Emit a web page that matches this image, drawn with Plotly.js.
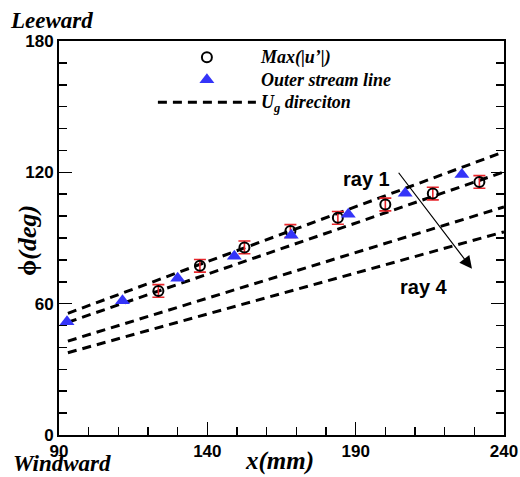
<!DOCTYPE html>
<html>
<head>
<meta charset="utf-8">
<script src="https://cdn.plot.ly/plotly-3.0.1.min.js"></script>
<style>html,body{margin:0;padding:0;background:#fff;}#chart{width:520px;height:477px;}</style>
</head>
<body>
<div id="chart"></div>
<script>
// Max(|u'|) points with error bars
var maxX = [123.5, 137.5, 152.5, 168, 184, 200, 216, 231.7];
var maxY = [65.8, 77.3, 85.7, 93.2, 99.2, 105.3, 110.3, 115.6];
var maxErr = [2.9, 2.9, 2.9, 2.9, 2.9, 2.9, 2.9, 2.9];
// Outer stream line points
var outerX = [92.7, 111.4, 130, 149.1, 168.3, 187.5, 206.7, 225.8];
var outerY = [51.7, 61.3, 71.6, 81.7, 91.3, 100.9, 110.4, 119.0];
// Ug direction rays
var rayX = [93, 240];
var ray1 = [55.6, 129.4];
var ray2 = [51.5, 120.2];
var ray3 = [42.9, 104.2];
var ray4 = [37.6, 92.8];
// axis ticks
var xTicks = [90, 140, 190, 240];
var yTicks = [0, 60, 120, 180];

var serif = 'Liberation Serif, Times New Roman, serif';
var sans = 'Liberation Sans, Arial, Helvetica, sans-serif';
var rayStyle = {color: '#000', width: 3, dash: '9px,6px'};
function big(t) { return '<span style="font-size:18px">' + t + '</span>'; }

var traces = [];
[ray1, ray2, ray3, ray4].forEach(function (r, i) {
  traces.push({
    x: rayX, y: r, type: 'scatter', mode: 'lines',
    line: rayStyle, name: big('U<sub>g</sub> direciton'),
    legendgroup: 'rays', showlegend: i === 0, legendrank: 3,
    hoverinfo: 'skip'
  });
});
traces.push({
  x: maxX, y: maxY, type: 'scatter', mode: 'markers',
  name: big('Max(|u’|)'), legendrank: 1,
  marker: {symbol: 'circle-open', size: 10, color: '#000', line: {width: 2, color: '#000'}},
  error_y: {type: 'data', array: maxErr, visible: true, color: '#e8262b', thickness: 1.6, width: 6}
});
traces.push({
  x: outerX, y: outerY, type: 'scatter', mode: 'markers',
  name: big('Outer stream line'), legendrank: 2,
  marker: {symbol: 'triangle-up', size: 13, color: '#3434f8', line: {width: 0}}
});

var titleFont = {family: serif, size: 26, color: '#000', weight: 'bold', style: 'italic'};
var xTitleFont = {family: serif, size: 25, color: '#000', weight: 'bold', style: 'italic'};
var sideFont = {family: serif, size: 23, color: '#000', weight: 'bold', style: 'italic'};
var rayFont = {family: sans, size: 20, color: '#000', weight: 'bold'};

var layout = {
  width: 520, height: 477,
  margin: {l: 59, r: 16, t: 41, b: 42},
  paper_bgcolor: '#fff', plot_bgcolor: '#fff',
  showlegend: true,
  legend: {
    x: 0.211, y: 1.0, xanchor: 'left', yanchor: 'top',
    bgcolor: 'rgba(0,0,0,0)', borderwidth: 0,
    itemwidth: 98, tracegroupgap: 0,
    font: {family: serif, size: 15, color: '#000', weight: 'bold', style: 'italic'}
  },
  xaxis: {
    range: [90, 240], tickvals: xTicks, ticktext: xTicks.map(String),
    ticks: 'inside', ticklen: 13, tickwidth: 1.5, tickcolor: '#000',
    minor: {dtick: 10, ticks: 'inside', ticklen: 8, tickwidth: 1.5, tickcolor: '#000'},
    showline: true, linecolor: '#000', linewidth: 2, mirror: true,
    showgrid: false, zeroline: false,
    tickfont: {family: sans, size: 17, color: '#000', weight: 'bold'}
  },
  yaxis: {
    range: [0, 180], tickvals: yTicks, ticktext: yTicks.map(String),
    ticks: 'inside', ticklen: 13, tickwidth: 1.5, tickcolor: '#000',
    minor: {dtick: 10, ticks: 'inside', ticklen: 8, tickwidth: 1.5, tickcolor: '#000'},
    showline: true, linecolor: '#000', linewidth: 2, mirror: 'ticks',
    showgrid: false, zeroline: false,
    tickfont: {family: sans, size: 17, color: '#000', weight: 'bold'}
  },
  annotations: [
    {xref: 'paper', yref: 'paper', x: 0.5, y: 0, yshift: -26, xshift: -2, xanchor: 'center', yanchor: 'middle',
     borderpad: 0, text: 'x(mm)', showarrow: false, font: xTitleFont},
    {xref: 'paper', yref: 'paper', x: 0, y: 0.5, xshift: -32, yshift: -3, xanchor: 'center', yanchor: 'middle',
     textangle: -90, text: '<span style="font-style:normal">ϕ</span>(deg)', showarrow: false, font: titleFont},
    {xref: 'paper', yref: 'paper', x: 0, y: 1.0, xshift: -51, yshift: 21, xanchor: 'left', yanchor: 'middle',
     text: 'Leeward', showarrow: false, font: sideFont},
    {xref: 'paper', yref: 'paper', x: 0, y: 0, xshift: -47, yshift: -28, xanchor: 'left', yanchor: 'middle',
     borderpad: 0, text: 'Windward', showarrow: false, font: sideFont},
    {xref: 'x', yref: 'y', x: 229.2, y: 75.9, ax: 204.1, ay: 120.5, axref: 'x', ayref: 'y',
     showarrow: true, arrowhead: 2, arrowsize: 2.1, arrowwidth: 1.2, arrowcolor: '#000', text: ''},
    {xref: 'x', yref: 'y', x: 193.6, y: 117.1, text: 'ray 1', showarrow: false, font: rayFont},
    {xref: 'x', yref: 'y', x: 213.1, y: 67.5, text: 'ray 4', showarrow: false, font: rayFont}
  ]
};

Plotly.newPlot('chart', traces, layout, {staticPlot: true, displayModeBar: false});
</script>
</body>
</html>
